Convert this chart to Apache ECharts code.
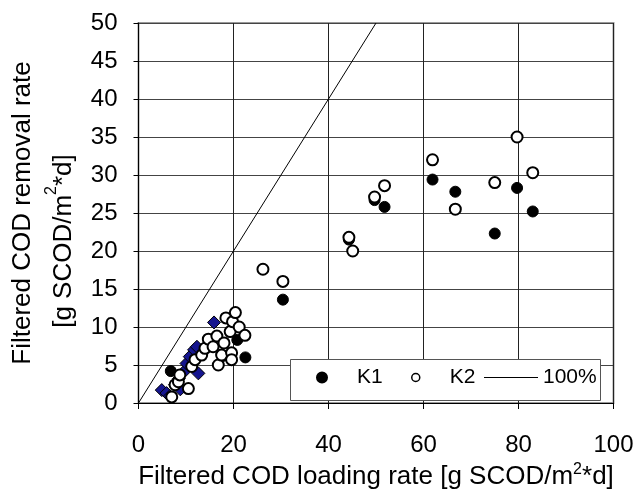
<!DOCTYPE html>
<html>
<head>
<meta charset="utf-8">
<script src="https://cdn.jsdelivr.net/npm/echarts@6/dist/echarts.min.js"></script>
<style>html,body{margin:0;padding:0;background:#fff}#c{width:639px;height:492px}</style>
</head>
<body>
<div id="c"></div>
<script>
// ---- data ----
const xTicks = [0, 20, 40, 60, 80, 100];
const yTicks = [0, 5, 10, 15, 20, 25, 30, 35, 40, 45, 50];
const k1 = [
  [6.8, 4.2], [17.8, 6.2], [20.8, 8.3], [22.5, 6.0], [30.4, 13.6],
  [44.3, 21.5], [49.7, 26.7], [51.8, 25.8], [61.9, 29.4], [66.7, 27.8],
  [75.0, 22.3], [79.7, 28.3], [83.0, 25.2]
];
const k2 = [
  [7.0, 0.8], [7.7, 2.4], [8.4, 2.8], [8.7, 3.7], [10.5, 1.9], [11.2, 4.8],
  [11.9, 5.7], [13.3, 6.3], [14.0, 7.2], [14.7, 8.4], [15.7, 7.4], [16.5, 8.8],
  [16.8, 5.0], [17.5, 6.3], [18.0, 7.9], [18.4, 11.2], [19.3, 9.4], [19.6, 6.6],
  [19.6, 5.7], [19.8, 10.7], [20.4, 11.9], [21.2, 10.0], [22.4, 8.9],
  [26.2, 17.6], [30.4, 16.0], [44.3, 21.8], [45.1, 20.0], [49.7, 27.1],
  [51.8, 28.6], [61.9, 32.0], [66.7, 25.5], [75.0, 29.0], [79.7, 35.0], [83.0, 30.3]
];
const k3 = [
  [4.9, 1.7], [5.9, 1.3], [6.6, 0.9], [7.7, 2.4], [8.5, 3.2], [9.4, 4.0],
  [10.1, 5.2], [10.8, 6.1], [11.7, 7.0], [12.3, 7.4], [12.6, 3.9], [15.9, 10.6], [8.8, 1.8]
];
const refLine = [[0, 0], [50, 50]];
const legendNames = ['K1', 'K2', '100%'];

const FONT = 'Liberation Sans, Arial, sans-serif';
const chart = echarts.init(document.getElementById('c'), null, {renderer: 'canvas'});
chart.setOption({
  animation: false,
  backgroundColor: '#fff',
  textStyle: {fontFamily: FONT, color: '#000'},
  grid: {left: 138.5, right: 25.5, top: 23, bottom: 89, show: true, borderColor: '#999', borderWidth: 2,
         containLabel: false, outerBoundsMode: 'none'},
  xAxis: {
    type: 'value', min: xTicks[0], max: xTicks[xTicks.length - 1], interval: 20,
    axisLine: {show: true, lineStyle: {color: '#000', width: 1}},
    axisTick: {show: true, inside: false, length: 6, lineStyle: {color: '#000'}},
    axisLabel: {margin: 30, fontSize: 24, color: '#000', fontFamily: FONT},
    splitLine: {show: true, lineStyle: {color: '#222', width: 1}},
    name: '{a|Filtered COD loading rate [g SCOD/m}{s|2}{a|*d]}',
    nameLocation: 'middle', nameGap: 56,
    nameTextStyle: {
      rich: {
        a: {fontSize: 26, fontFamily: FONT, color: '#000', lineHeight: 30},
        s: {fontSize: 16, fontFamily: FONT, color: '#000', verticalAlign: 'top', lineHeight: 30}
      }
    }
  },
  yAxis: {
    type: 'value', min: yTicks[0], max: yTicks[yTicks.length - 1], interval: 5,
    axisLine: {show: true, lineStyle: {color: '#000', width: 1}},
    axisTick: {show: true, inside: false, length: 5, lineStyle: {color: '#000'}},
    axisLabel: {margin: 21, fontSize: 24, color: '#000', fontFamily: FONT},
    splitLine: {show: true, lineStyle: {color: '#444', width: 1}},
    name: '{a|Filtered COD removal rate}\n{b|[g SCOD/m}{s|2}{b|*d]}{p| }',
    nameLocation: 'middle', nameGap: 54,
    nameTextStyle: {
      rich: {
        a: {fontSize: 26, fontFamily: FONT, color: '#000', lineHeight: 41},
        b: {fontSize: 26, fontFamily: FONT, color: '#000', lineHeight: 41},
        p: {fontSize: 26, fontFamily: FONT, color: '#000', lineHeight: 41, width: 56},
        s: {fontSize: 16, fontFamily: FONT, color: '#000', verticalAlign: 'top', lineHeight: 41}
      }
    }
  },
  legend: [
    {
      data: [{name: legendNames[0], icon: 'circle'}],
      left: 316, top: 367, padding: 0, itemWidth: 10, itemHeight: 10,
      textStyle: {fontSize: 21, fontFamily: FONT, color: '#000', padding: [0, 0, 0, 25]}
    },
    {
      data: [{name: legendNames[1], icon: 'circle'}],
      left: 411, top: 367, padding: 0, itemWidth: 8, itemHeight: 8,
      itemStyle: {borderColor: '#000', borderWidth: 1.5, color: '#fff'},
      textStyle: {fontSize: 21, fontFamily: FONT, color: '#000', padding: [0, 0, 0, 25]}
    },
    {
      data: [{name: legendNames[2], icon: 'rect'}],
      left: 484, top: 367, padding: 0, itemWidth: 54, itemHeight: 1,
      itemStyle: {color: '#000', borderWidth: 0},
      textStyle: {fontSize: 21, fontFamily: FONT, color: '#000', padding: [0, 0, 0, 0]}
    }
  ],
  graphic: [{
    type: 'rect', z: 3,
    shape: {x: 290.5, y: 359.5, width: 310, height: 41},
    style: {fill: '#fff', stroke: '#555', lineWidth: 1}
  }],
  series: [
    {
      name: legendNames[0], type: 'scatter', data: k1, symbol: 'circle', symbolSize: 11,
      itemStyle: {color: '#000', borderColor: '#000', borderWidth: 1, opacity: 1}, z: 2
    },
    {
      name: 'K3', type: 'scatter', data: k3, symbol: 'diamond', symbolSize: 13,
      itemStyle: {color: '#15158f', borderColor: '#000', borderWidth: 1, opacity: 1}, z: 2
    },
    {
      name: legendNames[1], type: 'scatter', data: k2, symbol: 'circle', symbolSize: 11,
      itemStyle: {color: '#fff', borderColor: '#000', borderWidth: 2, opacity: 1}, z: 2
    },
    {
      name: legendNames[2], type: 'line', data: refLine, symbol: 'none', showSymbol: false,
      lineStyle: {color: '#000', width: 1}, itemStyle: {color: '#000'}, z: 1, silent: true
    }
  ]
});
</script>
</body>
</html>
